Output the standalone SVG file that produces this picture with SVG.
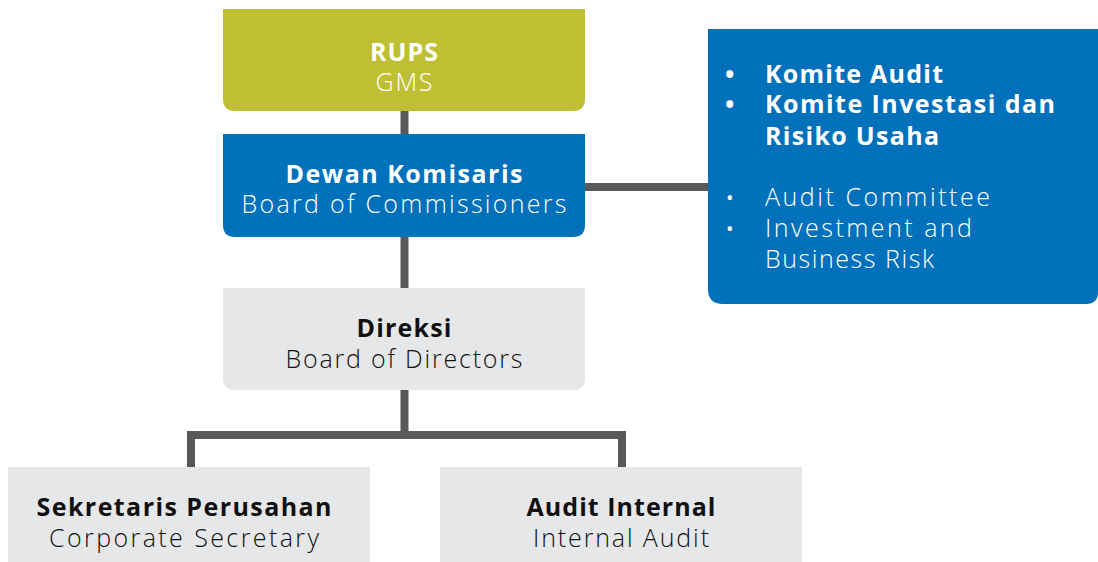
<svg xmlns="http://www.w3.org/2000/svg" width="1098" height="562" viewBox="0 0 1098 562">
<style>
text{font-family:"Open Sans","Liberation Sans",sans-serif;font-size:25px}
.c{text-anchor:middle}
.b{font-weight:700}
.l{font-weight:300}
.w{fill:#ffffff}
.k{fill:#111111}
.bl{font-weight:400;font-size:20px}
.conn{stroke:#58595b;stroke-width:8;fill:none}
</style>
<g id="connectors">
<line class="conn" x1="404.5" y1="108" x2="404.5" y2="137"/>
<line class="conn" x1="404.5" y1="234" x2="404.5" y2="291"/>
<line class="conn" x1="582" y1="187" x2="711" y2="187"/>
<polyline class="conn" points="404.5,387 404.5,435 191,435 191,470"/>
<polyline class="conn" points="404.5,435 622,435 622,470"/>
</g>
<g id="rups">
<path d="M223,9 H585 V99 Q585,111 573,111 H235 Q223,111 223,99 Z" fill="#bfbf33"/>
<text class="c b w" x="404" y="61" textLength="68">RUPS</text>
<text class="c l w" x="404" y="91" textLength="57">GMS</text>
</g>
<g id="dewan-komisaris">
<path d="M223,134 H585 V225 Q585,237 573,237 H235 Q223,237 223,225 Z" fill="#0071ba"/>
<text class="c b w" x="404" y="183" textLength="237">Dewan Komisaris</text>
<text class="c l w" x="404" y="213" textLength="325">Board of Commissioners</text>
</g>
<g id="komite">
<path d="M708,29 H1098 V292 Q1098,304 1086,304 H723 Q708,304 708,289 Z" fill="#0071ba"/>
<text class="b w" x="725" y="83">•</text>
<text class="b w" x="765" y="83" textLength="178">Komite Audit</text>
<text class="b w" x="725" y="113">•</text>
<text class="b w" x="765" y="113" textLength="290">Komite Investasi dan</text>
<text class="b w" x="765" y="145" textLength="174">Risiko Usaha</text>
<text class="bl w" x="726" y="205">•</text>
<text class="l w" x="765" y="206" textLength="225">Audit Committee</text>
<text class="bl w" x="726" y="236">•</text>
<text class="l w" x="765" y="237" textLength="207">Investment and</text>
<text class="l w" x="765" y="268" textLength="169">Business Risk</text>
</g>
<g id="direksi">
<path d="M223,288 H585 V378 Q585,390 573,390 H235 Q223,390 223,378 Z" fill="#e6e7e8"/>
<text class="c b k" x="404" y="337" textLength="95">Direksi</text>
<text class="c l k" x="404" y="368" textLength="237">Board of Directors</text>
</g>
<g id="sekretaris">
<path d="M8,467 H370 V560 Q370,572 358,572 H20 Q8,572 8,560 Z" fill="#e6e7e8"/>
<text class="c b k" x="184" y="516" textLength="295">Sekretaris Perusahan</text>
<text class="c l k" x="184" y="547" textLength="270">Corporate Secretary</text>
</g>
<g id="audit-internal">
<path d="M440,467 H802 V560 Q802,572 790,572 H452 Q440,572 440,560 Z" fill="#e6e7e8"/>
<text class="c b k" x="621" y="516" textLength="189">Audit Internal</text>
<text class="c l k" x="621" y="547" textLength="176">Internal Audit</text>
</g>
</svg>
